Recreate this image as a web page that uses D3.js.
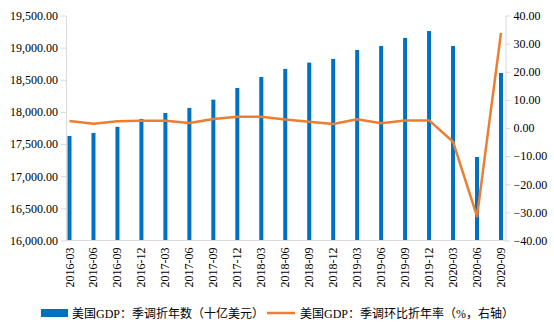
<!DOCTYPE html>
<html>
<head>
<meta charset="utf-8">
<script src="https://cdn.jsdelivr.net/npm/d3@7"></script>
<style>
  html, body { margin: 0; padding: 0; background: #ffffff; }
  svg text { font-family: "Liberation Serif", "Noto Sans CJK SC", serif; fill: #000; }
</style>
</head>
<body>
<div id="chart"></div>
<script>
// quarters, real GDP level (left axis) and q/q annualised growth (right axis)
const quarters = ["2016-03","2016-06","2016-09","2016-12","2017-03","2017-06","2017-09","2017-12",
                  "2018-03","2018-06","2018-09","2018-12","2019-03","2019-06","2019-09","2019-12",
                  "2020-03","2020-06","2020-09"];
const gdpLevel = [17626, 17672, 17768, 17891, 17984, 18062, 18191, 18373,
                  18544, 18669, 18767, 18824, 18964, 19026, 19151, 19258,
                  19026, 17299, 18606];
const gdpGrowth = [2.5, 1.5, 2.4, 2.6, 2.6, 1.8, 3.2, 4.0,
                   4.0, 3.0, 2.2, 1.4, 3.1, 1.7, 2.7, 2.7,
                   -4.9, -31.4, 33.8];
const leftTicks  = [16000, 16500, 17000, 17500, 18000, 18500, 19000, 19500];
const rightTicks = [-40, -30, -20, -10, 0, 10, 20, 30, 40];
const legendLabels = ["美国GDP：季调折年数（十亿美元）", "美国GDP：季调环比折年率（%，右轴）"];

const W = 554, H = 332;
const plotL = 66, plotR = 505.5, plotT = 15.5, plotB = 240.5;
const barColor = "#0070C0", lineColor = "#ED7D31", axisColor = "#D9D9D9";

const svg = d3.select("#chart").append("svg")
    .attr("width", W)
    .attr("height", H);

const x = d3.scalePoint().domain(quarters).range([69.5, 501]);
const yL = d3.scaleLinear().domain([16000, 19500]).range([plotB, plotT]);
const yR = d3.scaleLinear().domain([-40, 40]).range([plotB, plotT]);

const fmtL = d3.format(",.2f");
const fmtR = d3.format(".2f");

// bars
svg.append("g")
  .selectAll("rect")
  .data(gdpLevel)
  .enter()
    .append("rect")
      .attr("x", (d, i) => x(quarters[i]) - 2)
      .attr("width", 4)
      .attr("y", d => yL(d))
      .attr("height", d => plotB - yL(d))
      .attr("fill", barColor);

// left axis
const axL = svg.append("g")
    .attr("transform", "translate(" + plotL + ",0)")
    .call(d3.axisLeft(yL).tickValues(leftTicks).tickFormat(fmtL).tickSize(5).tickSizeOuter(0).tickPadding(3));
// right axis
const axR = svg.append("g")
    .attr("transform", "translate(" + plotR + ",0)")
    .call(d3.axisRight(yR).tickValues(rightTicks).tickFormat(fmtR).tickSize(5).tickSizeOuter(0).tickPadding(3));

[axL, axR].forEach(ax => {
  ax.select(".domain").attr("stroke", axisColor);
  ax.selectAll(".tick line").attr("stroke", axisColor);
  ax.selectAll(".tick text").style("font-size", "12px").attr("fill", "#000");
});

// bottom axis line + rotated labels
svg.append("line")
    .attr("x1", plotL).attr("x2", plotR)
    .attr("y1", plotB).attr("y2", plotB)
    .attr("stroke", axisColor);

svg.append("g")
  .selectAll("text")
  .data(quarters)
  .enter()
    .append("text")
      .attr("transform", d => "translate(" + (x(d) + 4) + "," + (plotB + 7) + ") rotate(-90)")
      .attr("text-anchor", "end")
      .style("font-size", "12px")
      .text(d => d);

// growth line
const line = d3.line()
    .x((d, i) => x(quarters[i]))
    .y(d => yR(d));

svg.append("path")
    .datum(gdpGrowth)
    .attr("d", line)
    .attr("fill", "none")
    .attr("stroke", lineColor)
    .attr("stroke-width", 2.5)
    .attr("stroke-linejoin", "round");

// legend
const lg = svg.append("g").style("font-size", "12px");
lg.append("rect")
    .attr("x", 41).attr("y", 309)
    .attr("width", 27).attr("height", 8)
    .attr("fill", barColor);
lg.append("text")
    .attr("x", 72).attr("y", 317.5)
    .text(legendLabels[0]);
lg.append("line")
    .attr("x1", 267).attr("x2", 295)
    .attr("y1", 313).attr("y2", 313)
    .attr("stroke", lineColor)
    .attr("stroke-width", 2.5);
lg.append("text")
    .attr("x", 300).attr("y", 317.5)
    .text(legendLabels[1]);
</script>
</body>
</html>
